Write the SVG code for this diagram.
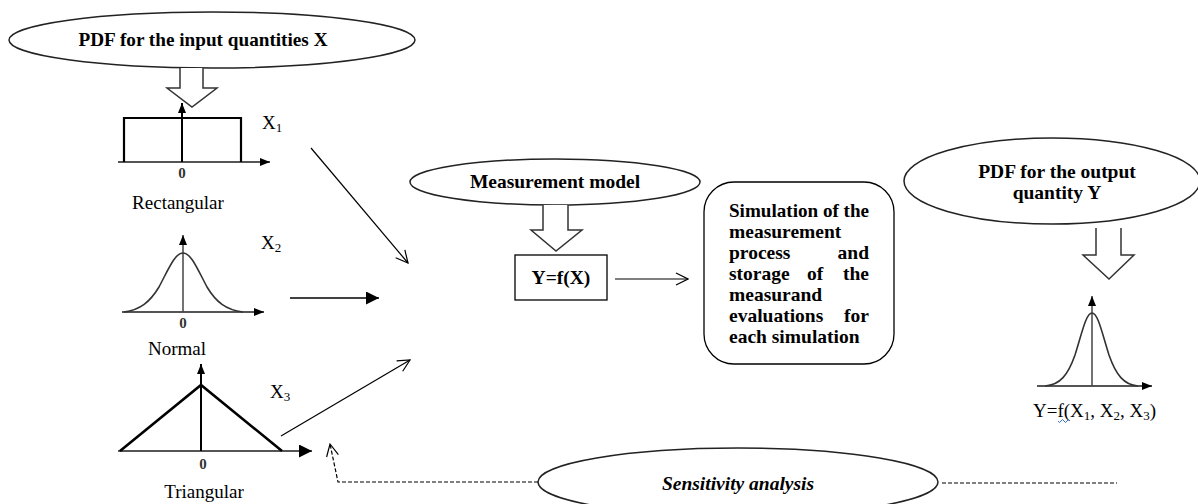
<svg xmlns="http://www.w3.org/2000/svg" width="1198" height="504" viewBox="0 0 1198 504">
<defs>
<marker id="fill" viewBox="0 0 10 10" refX="10" refY="5" markerWidth="10" markerHeight="10" markerUnits="userSpaceOnUse" orient="auto">
<path d="M0,1 L10,5 L0,9 Z" fill="#000"/>
</marker>
<marker id="fillBig" viewBox="0 0 12 12" refX="12" refY="6" markerWidth="13" markerHeight="13" markerUnits="userSpaceOnUse" orient="auto">
<path d="M0,0 L12,6 L0,12 Z" fill="#000"/>
</marker>
<marker id="open" viewBox="0 0 14 14" refX="13" refY="7" markerWidth="14" markerHeight="14" markerUnits="userSpaceOnUse" orient="auto">
<path d="M1,1 L13,7 L1,13" fill="none" stroke="#000" stroke-width="1.2"/>
</marker>
</defs>
<style>
.bold{font-family:"Liberation Serif","Times New Roman",serif;font-weight:bold;font-size:19.5px;fill:#000}
.reg{font-family:"Liberation Serif","Times New Roman",serif;font-size:19px;fill:#000}
.zero{font-family:"Liberation Serif","Times New Roman",serif;font-weight:bold;font-size:15px;fill:#333}
.ell{fill:#fff;stroke:#222;stroke-width:1.5}
.blk{fill:#fff;stroke:#333;stroke-width:1.5}
.ax{stroke:#555;stroke-width:1.8;fill:none}
.thin{stroke:#000;stroke-width:1.2;fill:none}
.dash{stroke:#000;stroke-width:1.2;fill:none;stroke-dasharray:4 2}
</style>
<rect width="1198" height="504" fill="#fff"/>

<g id="input-pdf">
<ellipse class="ell" cx="212" cy="40" rx="203" ry="28"/>
<text class="bold" x="203" y="46" text-anchor="middle" textLength="249" lengthAdjust="spacingAndGlyphs">PDF for the input quantities X</text>
<path class="blk" d="M180,68 V88 H167 L192,107 L217,88 H203 V68"/>
</g>

<g id="rectangular">
<line class="ax" x1="118" y1="162" x2="270" y2="162" marker-end="url(#fill)"/>
<line x1="182" y1="162" x2="182" y2="103" stroke="#000" stroke-width="2" marker-end="url(#fill)"/>
<path d="M124,162 V118 H241 V162" fill="none" stroke="#000" stroke-width="2.2"/>
<text class="zero" x="182" y="178" text-anchor="middle">0</text>
<text class="reg" x="262" y="129">X<tspan font-size="13" dy="3">1</tspan></text>
<text class="reg" x="178" y="209" text-anchor="middle">Rectangular</text>
</g>

<g id="normal">
<line class="ax" x1="122" y1="312" x2="264" y2="312" marker-end="url(#fill)"/>
<line x1="183" y1="312" x2="183" y2="235" stroke="#444" stroke-width="1.5" marker-end="url(#fill)"/>
<path d="M124,312 C140,310 150,302 159,287 C169,268 175,253 183,253 C191,253 197,268 207,287 C216,302 226,310 243,312" fill="none" stroke="#333" stroke-width="1.6"/>
<text class="zero" x="183" y="328" text-anchor="middle">0</text>
<text class="reg" x="261" y="249">X<tspan font-size="13" dy="3">2</tspan></text>
<text class="reg" x="177" y="355" text-anchor="middle">Normal</text>
</g>

<g id="triangular">
<line class="ax" x1="118" y1="451" x2="312" y2="451" marker-end="url(#fillBig)"/>
<line x1="201" y1="451" x2="201" y2="364" stroke="#000" stroke-width="2" marker-end="url(#fill)"/>
<path d="M120,451 L201,385 L282,451" fill="none" stroke="#000" stroke-width="2.6"/>
<text class="zero" x="203" y="469" text-anchor="middle">0</text>
<text class="reg" x="270" y="398">X<tspan font-size="13" dy="3">3</tspan></text>
<text class="reg" x="204" y="498" text-anchor="middle">Triangular</text>
</g>

<g id="measurement-model">
<ellipse class="ell" cx="555" cy="182" rx="145" ry="23"/>
<text class="bold" x="555" y="188" text-anchor="middle">Measurement model</text>
<path class="blk" d="M543,205 V230 H531 L556,251 L582,230 H568 V205"/>
</g>

<g id="function-box">
<rect x="515" y="255" width="92" height="45" fill="#fff" stroke="#000" stroke-width="1.3"/>
<text class="bold" x="561" y="284" text-anchor="middle">Y=f(X)</text>
</g>

<g id="simulation">
<rect x="704" y="182" width="190" height="182" rx="30" ry="30" fill="#fff" stroke="#000" stroke-width="1.3"/>
<text class="bold" x="729" y="217" textLength="140" lengthAdjust="spacingAndGlyphs">Simulation of the</text>
<text class="bold" x="729" y="238">measurement</text>
<text class="bold" x="729" y="259">process</text>
<text class="bold" x="869" y="259" text-anchor="end">and</text>
<text class="bold" x="729" y="280">storage</text>
<text class="bold" x="815" y="280" text-anchor="middle">of</text>
<text class="bold" x="869" y="280" text-anchor="end">the</text>
<text class="bold" x="729" y="301">measurand</text>
<text class="bold" x="729" y="322">evaluations</text>
<text class="bold" x="869" y="322" text-anchor="end">for</text>
<text class="bold" x="729" y="343">each simulation</text>
</g>

<g id="output-pdf">
<ellipse class="ell" cx="1052" cy="181" rx="148" ry="43"/>
<text class="bold" x="1057" y="178" text-anchor="middle">PDF for the output</text>
<text class="bold" x="1057" y="199" text-anchor="middle">quantity Y</text>
<path class="blk" d="M1096,228 V255 H1083 L1109,279 L1134,255 H1121 V228"/>
</g>

<g id="output-normal">
<line class="ax" x1="1037" y1="386" x2="1152" y2="386" marker-end="url(#fill)"/>
<line x1="1092" y1="386" x2="1092" y2="296" stroke="#444" stroke-width="1.5" marker-end="url(#fill)"/>
<path d="M1045,386 C1060,385 1068,375 1075,355 C1082,333 1086,313 1092,313 C1098,313 1102,333 1109,355 C1116,375 1124,385 1138,386" fill="none" stroke="#333" stroke-width="1.6"/>
<text class="reg" x="1033" y="417">Y=f(X<tspan font-size="13" dy="3">1</tspan><tspan dy="-3">, X</tspan><tspan font-size="13" dy="3">2</tspan><tspan dy="-3">, X</tspan><tspan font-size="13" dy="3">3</tspan><tspan dy="-3">)</tspan></text>
<path d="M1058,421 q1.5,3 3,0 t3,0 t3,0 t3,0" fill="none" stroke="#3a6fd8" stroke-width="1"/>
</g>

<g id="sensitivity">
<ellipse class="ell" cx="738" cy="482" rx="200" ry="34"/>
<text class="bold" x="738" y="490" text-anchor="middle" font-style="italic" font-size="20">Sensitivity analysis</text>
</g>

<g id="connectors">
<line class="thin" x1="311" y1="148" x2="408" y2="263" marker-end="url(#open)"/>
<line x1="290" y1="298" x2="379" y2="298" stroke="#000" stroke-width="1.4" marker-end="url(#fillBig)"/>
<line class="thin" x1="281" y1="436" x2="410" y2="360" marker-end="url(#open)"/>
<line class="thin" x1="615" y1="279" x2="688" y2="279" marker-end="url(#open)"/>
<polyline class="dash" points="538,482 338,482 330,444" marker-end="url(#open)"/>
<line class="dash" x1="942" y1="483" x2="1117" y2="483"/>
</g>
</svg>
